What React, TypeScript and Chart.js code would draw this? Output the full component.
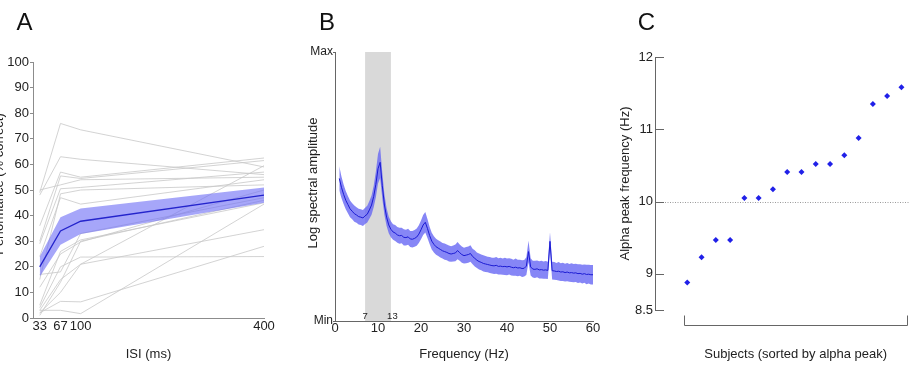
import React, { useEffect, useRef } from 'react';
import { Chart, registerables } from 'chart.js';

Chart.register(...registerables);

const W = 914;
const H = 368;
const FONT = '"Liberation Sans", Arial, Helvetica, sans-serif';

// ---------- Panel A: performance vs. inter-stimulus interval ----------
const ISI_MS = [33, 67, 100, 400];
const SUBJECT_PERF = [
  [49, 76, 73.5, 59],
  [48, 63, 62, 56],
  [36, 57, 55, 62.5],
  [30, 55.5, 54.5, 61.5],
  [50, 52, 54, 55],
  [29, 50.5, 51, 57],
  [15, 48.5, 50, 52],
  [24, 47, 44.5, 54],
  [5, 26, 30.5, 45],
  [4, 20, 23.8, 24],
  [3, 15, 21, 59.5],
  [2, 10, 21, 34.5],
  [2, 6.5, 6.3, 28],
  [3, 3, 1.7, 44.5],
  [12, 25, 29.7, 50],
  [1, 14, 30, 46],
  [17, 18, 33, 47],
];
const MEAN_PERF = [20, 34, 37.8, 48];
const SEM_PERF = [3.9, 5.4, 5.0, 3.0];

// ---------- Panel B: log spectral amplitude (Min = 0, Max = 1) ----------
const FREQ_START_HZ = 1;
const FREQ_STEP_HZ = 0.5;
const SPECTRUM = [
  0.530, 0.497, 0.471, 0.449, 0.433, 0.417, 0.408, 0.399, 0.394, 0.388,
  0.386, 0.383, 0.391, 0.397, 0.413, 0.431, 0.463, 0.508, 0.566, 0.590,
  0.503, 0.431, 0.386, 0.357, 0.341, 0.331, 0.327, 0.320, 0.317, 0.318,
  0.311, 0.310, 0.313, 0.305, 0.304, 0.307, 0.312, 0.323, 0.339, 0.357,
  0.367, 0.344, 0.318, 0.297, 0.285, 0.276, 0.271, 0.266, 0.261, 0.258,
  0.255, 0.251, 0.249, 0.251, 0.253, 0.262, 0.254, 0.247, 0.243, 0.245,
  0.247, 0.251, 0.240, 0.233, 0.226, 0.221, 0.218, 0.214, 0.212, 0.210,
  0.208, 0.206, 0.205, 0.207, 0.203, 0.204, 0.202, 0.203, 0.201, 0.203,
  0.200, 0.198, 0.200, 0.197, 0.198, 0.195, 0.196, 0.204, 0.258, 0.201,
  0.193, 0.192, 0.194, 0.190, 0.191, 0.189, 0.190, 0.188, 0.296, 0.187,
  0.186, 0.184, 0.185, 0.182, 0.183, 0.180, 0.182, 0.179, 0.180, 0.178,
  0.179, 0.176, 0.177, 0.174, 0.176, 0.173, 0.174, 0.172, 0.172,
];
const SPECTRUM_SEM = [
  0.045, 0.040, 0.036, 0.034, 0.032, 0.031, 0.030, 0.030, 0.029, 0.029,
  0.029, 0.030, 0.030, 0.031, 0.033, 0.036, 0.040, 0.048, 0.055, 0.058,
  0.048, 0.038, 0.033, 0.031, 0.030, 0.029, 0.030, 0.029, 0.030, 0.029,
  0.030, 0.029, 0.030, 0.030, 0.031, 0.031, 0.032, 0.033, 0.035, 0.037,
  0.038, 0.035, 0.032, 0.031, 0.030, 0.030, 0.029, 0.030, 0.029, 0.030,
  0.029, 0.030, 0.029, 0.030, 0.031, 0.032, 0.030, 0.030, 0.029, 0.030,
  0.030, 0.031, 0.029, 0.030, 0.029, 0.030, 0.029, 0.030, 0.030, 0.029,
  0.030, 0.029, 0.030, 0.031, 0.030, 0.031, 0.030, 0.032, 0.031, 0.030,
  0.031, 0.030, 0.032, 0.031, 0.030, 0.031, 0.031, 0.033, 0.040, 0.032,
  0.031, 0.032, 0.031, 0.032, 0.033, 0.032, 0.033, 0.032, 0.034, 0.033,
  0.033, 0.032, 0.034, 0.033, 0.034, 0.033, 0.034, 0.033, 0.035, 0.034,
  0.034, 0.035, 0.034, 0.035, 0.034, 0.036, 0.035, 0.036, 0.036,
];
const ALPHA_BAND_HZ = [7, 13];

// ---------- Panel C: individual alpha peak frequencies ----------
const ALPHA_PEAKS = [
  8.88, 9.23, 9.47, 9.47, 10.05, 10.05, 10.17, 10.41,
  10.41, 10.52, 10.52, 10.64, 10.88, 11.35, 11.46, 11.58,
];
const PEAK_TICKS = [8.5, 9, 10, 11, 12];
const ALPHA_REF_HZ = 10;
const SUBJECT_SPAN = [0.79, 16.4];

// Fixed sizes for the tick-label boxes, so each plot area lands where intended.
const Y_BOX = 30;
const X_BOX = 24;

type Area = { left: number; top: number; right: number; bottom: number };

// Layout padding that puts the plot area at the given page coordinates.
const areaPadding = (a: Area) => ({
  left: a.left - Y_BOX,
  top: a.top,
  right: W - a.right,
  bottom: H - a.bottom - X_BOX,
});

const fixWidth = (s: any) => {
  s.width = Y_BOX;
};
const fixHeight = (s: any) => {
  s.height = X_BOX;
};

type Txt = {
  text: string;
  x: number;
  y: number;
  size: number;
  rotate?: boolean;
  color?: string;
};

function textLayer(id: string, items: (chart: any) => Txt[]) {
  return {
    id,
    afterDraw(chart: any) {
      const ctx = chart.ctx as CanvasRenderingContext2D;
      for (const t of items(chart)) {
        ctx.save();
        ctx.font = `${t.size}px ${FONT}`;
        ctx.fillStyle = t.color ?? '#222';
        ctx.textAlign = 'center';
        ctx.textBaseline = 'middle';
        ctx.translate(t.x, t.y);
        if (t.rotate) ctx.rotate(-Math.PI / 2);
        ctx.fillText(t.text, 0, 0);
        ctx.restore();
      }
    },
  };
}

const baseOptions = (area: Area) => ({
  animation: false as const,
  responsive: false,
  devicePixelRatio: 1,
  events: [] as any[],
  layout: { padding: areaPadding(area) },
  plugins: { legend: { display: false }, tooltip: { enabled: false } },
});

const tickFont = (size: number) => ({ family: FONT, size });

function makePanelA(canvas: HTMLCanvasElement) {
  const subjects = SUBJECT_PERF.map((s) => ({
    data: ISI_MS.map((x, i) => ({ x, y: s[i] })),
    borderColor: '#c8c8c8',
    borderWidth: 0.8,
    pointRadius: 0,
    fill: false,
    order: 3,
  }));
  const n = subjects.length;
  const upper = {
    data: ISI_MS.map((x, i) => ({ x, y: MEAN_PERF[i] + SEM_PERF[i] })),
    borderWidth: 0,
    pointRadius: 0,
    backgroundColor: 'rgba(112,112,246,0.62)',
    fill: n + 1,
    order: 2,
  };
  const lower = {
    data: ISI_MS.map((x, i) => ({ x, y: MEAN_PERF[i] - SEM_PERF[i] })),
    borderWidth: 0,
    pointRadius: 0,
    fill: false,
    order: 2,
  };
  const mean = {
    data: ISI_MS.map((x, i) => ({ x, y: MEAN_PERF[i] })),
    borderColor: '#2424cc',
    borderWidth: 1.3,
    pointRadius: 0,
    fill: false,
    order: 1,
  };
  return new Chart(canvas, {
    type: 'line',
    data: { datasets: [...subjects, upper, lower, mean] as any },
    options: {
      ...baseOptions({ left: 33, top: 62, right: 264, bottom: 318 }),
      scales: {
        x: {
          type: 'linear',
          min: 22,
          max: 400,
          afterBuildTicks: (s: any) => {
            s.ticks = ISI_MS.map((v) => ({ value: v }));
          },
          afterFit: fixHeight,
          ticks: {
            font: tickFont(13),
            color: '#222',
            padding: 1,
            maxRotation: 0,
            autoSkip: false,
            callback: (v: any) => String(v),
          },
          grid: { drawOnChartArea: false, drawTicks: false },
          border: { color: '#8c8c8c', width: 1 },
        },
        y: {
          min: 0,
          max: 100,
          afterFit: fixWidth,
          ticks: { stepSize: 10, font: tickFont(13), color: '#222', padding: 1 },
          grid: { drawOnChartArea: false, tickLength: 3, color: '#8c8c8c' },
          border: { color: '#8c8c8c', width: 1 },
        },
      } as any,
    },
    plugins: [
      textLayer('textA', () => [
        { text: 'A', x: 24.5, y: 23, size: 24, color: '#111' },
        { text: 'ISI (ms)', x: 148.5, y: 354.5, size: 13 },
        { text: 'Performance (% correct)', x: -0.5, y: 184, size: 13, rotate: true },
      ]),
    ],
  });
}

function makePanelB(canvas: HTMLCanvasElement) {
  const freqs = SPECTRUM.map((_, i) => FREQ_START_HZ + i * FREQ_STEP_HZ);
  const bandFill = {
    id: 'alphaBand',
    beforeDatasetsDraw(chart: any) {
      const { ctx, chartArea, scales } = chart;
      const x0 = scales.x.getPixelForValue(ALPHA_BAND_HZ[0]);
      const x1 = scales.x.getPixelForValue(ALPHA_BAND_HZ[1]);
      ctx.save();
      ctx.fillStyle = '#d9d9d9';
      ctx.fillRect(x0, chartArea.top, x1 - x0, chartArea.bottom - chartArea.top);
      ctx.restore();
    },
  };
  return new Chart(canvas, {
    type: 'line',
    data: {
      datasets: [
        {
          data: freqs.map((x, i) => ({ x, y: SPECTRUM[i] + SPECTRUM_SEM[i] })),
          borderWidth: 0,
          pointRadius: 0,
          backgroundColor: 'rgba(100,100,244,0.78)',
          fill: 1,
          order: 2,
        },
        {
          data: freqs.map((x, i) => ({ x, y: SPECTRUM[i] - SPECTRUM_SEM[i] })),
          borderWidth: 0,
          pointRadius: 0,
          fill: false,
          order: 2,
        },
        {
          data: freqs.map((x, i) => ({ x, y: SPECTRUM[i] })),
          borderColor: '#1a1ad2',
          borderWidth: 1,
          pointRadius: 0,
          fill: false,
          order: 1,
        },
      ] as any,
    },
    options: {
      ...baseOptions({ left: 335, top: 52, right: 593, bottom: 321 }),
      scales: {
        x: {
          type: 'linear',
          min: 0,
          max: 60,
          afterFit: fixHeight,
          ticks: { stepSize: 10, font: tickFont(13), color: '#222', padding: 0, maxRotation: 0 },
          grid: { drawOnChartArea: false, drawTicks: false },
          border: { color: '#666', width: 1 },
        },
        y: {
          min: 0,
          max: 1,
          afterBuildTicks: (s: any) => {
            s.ticks = [{ value: 0 }, { value: 1 }];
          },
          afterFit: fixWidth,
          ticks: {
            font: tickFont(12),
            color: '#222',
            padding: 0,
            callback: (v: any) => (v >= 1 ? 'Max' : 'Min'),
          },
          grid: { drawOnChartArea: false, tickLength: 2, color: '#666' },
          border: { color: '#666', width: 1 },
        },
      } as any,
    },
    plugins: [
      bandFill,
      textLayer('textB', (chart) => [
        { text: 'B', x: 327, y: 23, size: 24, color: '#111' },
        { text: 'Frequency (Hz)', x: 464, y: 354.5, size: 13 },
        { text: 'Log spectral amplitude', x: 313.5, y: 183, size: 13, rotate: true },
        {
          text: String(ALPHA_BAND_HZ[0]),
          x: chart.scales.x.getPixelForValue(ALPHA_BAND_HZ[0]),
          y: 316.5,
          size: 9.5,
        },
        {
          text: String(ALPHA_BAND_HZ[1]),
          x: chart.scales.x.getPixelForValue(ALPHA_BAND_HZ[1]) + 1.5,
          y: 316.5,
          size: 9.5,
        },
      ]),
    ],
  });
}

function makePanelC(canvas: HTMLCanvasElement) {
  const axisColor = '#666';
  const guides = {
    id: 'peakGuides',
    beforeDatasetsDraw(chart: any) {
      const { ctx, chartArea, scales } = chart;
      const y = Math.round(scales.y.getPixelForValue(ALPHA_REF_HZ)) + 0.5;
      ctx.save();
      ctx.strokeStyle = '#9a9a9a';
      ctx.lineWidth = 1;
      ctx.setLineDash([1, 1.5]);
      ctx.beginPath();
      ctx.moveTo(chartArea.left, y);
      ctx.lineTo(chartArea.right, y);
      ctx.stroke();
      ctx.restore();
    },
    afterDraw(chart: any) {
      const { ctx, chartArea, scales } = chart;
      ctx.save();
      ctx.strokeStyle = axisColor;
      ctx.lineWidth = 1;
      // inward tick marks on the y axis
      for (const v of PEAK_TICKS) {
        const y = Math.round(scales.y.getPixelForValue(v)) + 0.5;
        ctx.beginPath();
        ctx.moveTo(chartArea.left, y);
        ctx.lineTo(chartArea.left + 9, y);
        ctx.stroke();
      }
      // bracket spanning the subjects
      const xa = Math.round(scales.x.getPixelForValue(SUBJECT_SPAN[0])) + 0.5;
      const xb = Math.round(scales.x.getPixelForValue(SUBJECT_SPAN[1])) + 0.5;
      const yb = Math.round(chartArea.bottom + 15) + 0.5;
      ctx.beginPath();
      ctx.moveTo(xa, yb - 10);
      ctx.lineTo(xa, yb);
      ctx.lineTo(xb, yb);
      ctx.lineTo(xb, yb - 10);
      ctx.stroke();
      ctx.restore();
    },
  };
  return new Chart(canvas, {
    type: 'scatter',
    data: {
      datasets: [
        {
          data: ALPHA_PEAKS.map((y, i) => ({ x: i + 1, y })),
          pointStyle: 'rectRot',
          pointRadius: 3,
          backgroundColor: '#2020e8',
          borderWidth: 0,
        },
      ] as any,
    },
    options: {
      ...baseOptions({ left: 655, top: 57, right: 910, bottom: 310 }),
      scales: {
        x: {
          type: 'linear',
          min: -1.26,
          max: 16.6,
          afterFit: fixHeight,
          ticks: { display: false },
          grid: { display: false },
          border: { display: false },
        },
        y: {
          min: 8.5,
          max: 12,
          afterBuildTicks: (s: any) => {
            s.ticks = PEAK_TICKS.map((v) => ({ value: v }));
          },
          afterFit: fixWidth,
          ticks: {
            font: tickFont(13),
            color: '#222',
            padding: 2,
            callback: (v: any) => String(v),
          },
          grid: { drawOnChartArea: false, drawTicks: false },
          border: { color: axisColor, width: 1 },
        },
      } as any,
    },
    plugins: [
      guides,
      textLayer('textC', (chart) => {
        const xa = chart.scales.x.getPixelForValue(SUBJECT_SPAN[0]);
        const xb = chart.scales.x.getPixelForValue(SUBJECT_SPAN[1]);
        return [
          { text: 'C', x: 646.5, y: 23, size: 24, color: '#111' },
          { text: 'Subjects (sorted by alpha peak)', x: (xa + xb) / 2, y: 354.5, size: 13 },
          { text: 'Alpha peak frequency (Hz)', x: 625, y: 183.5, size: 13, rotate: true },
        ];
      }),
    ],
  });
}

function Panel({ make }: { make: (c: HTMLCanvasElement) => Chart }) {
  const ref = useRef<HTMLCanvasElement>(null);
  useEffect(() => {
    const chart = make(ref.current as HTMLCanvasElement);
    return () => chart.destroy();
  }, [make]);
  return (
    <canvas
      ref={ref}
      width={W}
      height={H}
      style={{ position: 'absolute', left: 0, top: 0, width: W, height: H }}
    />
  );
}

export default function App() {
  return (
    <div
      style={{
        position: 'absolute',
        left: 0,
        top: 0,
        width: W,
        height: H,
        background: '#fff',
        overflow: 'hidden',
      }}
    >
      <Panel make={makePanelA} />
      <Panel make={makePanelB} />
      <Panel make={makePanelC} />
    </div>
  );
}
